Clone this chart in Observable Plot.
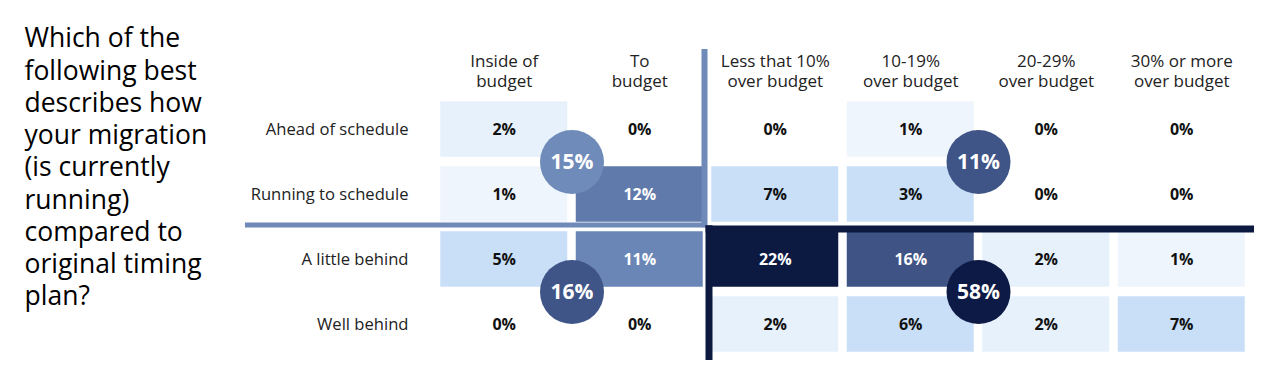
<!DOCTYPE html>
<html>
<head>
<meta charset="utf-8">
<script src="https://cdn.jsdelivr.net/npm/d3@7"></script>
<script src="https://cdn.jsdelivr.net/npm/@observablehq/plot@0.6"></script>
<style>
  html, body { margin: 0; padding: 0; background: #ffffff; }
  #chart svg { display: block; }
</style>
</head>
<body>
<div id="chart"></div>
<script>
// ---- data ----
const titleLines = ["Which of the", "following best", "describes how", "your migration", "(is currently", "running)", "compared to", "original timing", "plan?"];
const columns = ["Inside of\nbudget", "To\nbudget", "Less that 10%\nover budget", "10-19%\nover budget", "20-29%\nover budget", "30% or more\nover budget"];
const rowLabels = ["Ahead of schedule", "Running to schedule", "A little behind", "Well behind"];
const aheadOfSchedule   = [2, 0, 0, 1, 0, 0];
const runningToSchedule = [1, 12, 7, 3, 0, 0];
const aLittleBehind     = [5, 11, 22, 16, 2, 1];
const wellBehind        = [0, 0, 2, 6, 2, 7];
// quadrant totals: [on-time & on-budget, on-time & over-budget, behind & on-budget, behind & over-budget]
const quadrantTotals = [15, 11, 16, 58];
const colSplit = 2; // first "over budget" column
const rowSplit = 2; // first "behind" row

// ---- derived tables ----
const series = [aheadOfSchedule, runningToSchedule, aLittleBehind, wellBehind];
const cells = series.flatMap((vals, r) => vals.map((v, c) => ({r, c, v})));
const nCols = columns.length, nRows = rowLabels.length;
const leftC = (colSplit - 1) / 2, rightC = (colSplit + nCols - 1) / 2;
const topR = (rowSplit - 1) / 2, botR = (rowSplit + nRows - 1) / 2;
const quads = [
  {value: quadrantTotals[0], c: leftC,  r: topR, tone: "mid"},
  {value: quadrantTotals[1], c: rightC, r: topR, tone: "deep"},
  {value: quadrantTotals[2], c: leftC,  r: botR, tone: "deep"},
  {value: quadrantTotals[3], c: rightC, r: botR, tone: "navy"}
];
const toneColors = {mid: "#6f8bba", deep: "#3f5588", navy: "#0d1a45"};
const midLine = "#6f8ab8", navyLine = "#0c1a42";
const bx = colSplit - 0.5, by = rowSplit - 0.5;

const chart = Plot.plot({
  width: 1279,
  height: 377,
  margin: 0,
  x: {type: "linear", domain: [-0.5, nCols - 0.5], range: [436, 1249], axis: null},
  y: {type: "linear", domain: [-0.5, nRows - 0.5], range: [96.5, 356.5], axis: null},
  color: {
    type: "threshold",
    domain: [1, 2, 3, 10, 12, 14, 20],
    range: ["#ffffff", "#eff5fd", "#e6f1fc", "#c8dff7", "#6a86b6", "#5f7aab", "#3f5385", "#0c1a42"]
  },
  style: {fontFamily: "'Open Sans', sans-serif", background: "#ffffff"},
  marks: [
    // title
    Plot.text([titleLines.join("\n")], {
      frameAnchor: "top-left", dx: 24, dy: 24, lineAnchor: "top",
      textAnchor: "start", fontSize: 26.5, lineHeight: 32.25 / 26.5, fill: "#000"
    }),
    // heatmap cells
    Plot.rect(cells, {
      x1: d => d.c - 0.5, x2: d => d.c + 0.5,
      y1: d => d.r - 0.5, y2: d => d.r + 0.5,
      fill: "v", insetLeft: 4.25, insetRight: 4.25, insetTop: 4.75, insetBottom: 4.75
    }),
    // quadrant dividers
    Plot.ruleX([bx], {x: d => d, y1: -1.23, y2: by + 0.01, dx: -3, stroke: midLine, strokeWidth: 6}),
    Plot.ruleY([by], {y: d => d, x1: -1.91, x2: bx, dy: -2, stroke: midLine, strokeWidth: 5}),
    Plot.ruleY([by], {y: d => d, x1: bx - 0.01, x2: nCols - 0.463, dy: 2, stroke: navyLine, strokeWidth: 7}),
    Plot.ruleX([bx], {x: d => d, y1: by - 0.02, y2: nRows - 0.446, dx: 1.5, stroke: navyLine, strokeWidth: 7}),
    // cell values
    Plot.text(cells.filter(d => d.v < 10), {
      x: "c", y: "r", text: d => d.v + "%", fontWeight: "bold", fontSize: 16, fill: "#111"
    }),
    Plot.text(cells.filter(d => d.v >= 10), {
      x: "c", y: "r", text: d => d.v + "%", fontWeight: "bold", fontSize: 16, fill: "#ffffff"
    }),
    // quadrant total circles
    ...quads.map(q => Plot.dot([q], {x: "c", y: "r", r: 32, fill: toneColors[q.tone], stroke: "none"})),
    Plot.text(quads, {
      x: "c", y: "r", text: d => d.value + "%", fontWeight: "bold", fontSize: 21, fill: "#ffffff"
    }),
    // column headers
    Plot.text(columns, {
      x: (d, i) => i, frameAnchor: "top", dy: 52, lineAnchor: "top",
      fontSize: 17, lineHeight: 20 / 17, fill: "#222"
    }),
    // row labels
    Plot.text(rowLabels, {
      x: -0.5, y: (d, i) => i, dx: -28, textAnchor: "end", fontSize: 16.6, fill: "#222"
    })
  ]
});
document.getElementById("chart").appendChild(chart);
</script>
</body>
</html>
